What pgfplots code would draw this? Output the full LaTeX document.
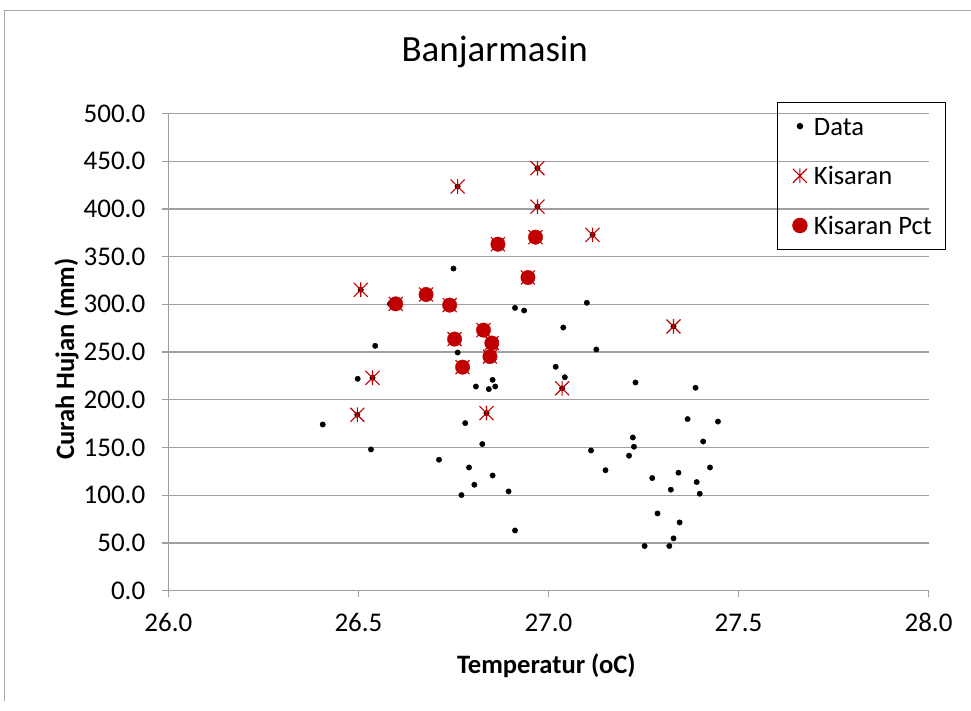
\documentclass[border=0pt]{standalone}
\usepackage{fontspec}
\setmainfont{Carlito}
\usepackage{pgfplots}
\usepackage{pgfplotstable}
\pgfplotsset{compat=1.18}
\definecolor{kred}{HTML}{C00000}
\definecolor{gridgray}{HTML}{A0A0A0}
\pgfdeclareplotmark{xstar}{%
  \pgfpathmoveto{\pgfqpoint{-\pgfplotmarksize}{-\pgfplotmarksize}}%
  \pgfpathlineto{\pgfqpoint{\pgfplotmarksize}{\pgfplotmarksize}}%
  \pgfpathmoveto{\pgfqpoint{-\pgfplotmarksize}{\pgfplotmarksize}}%
  \pgfpathlineto{\pgfqpoint{\pgfplotmarksize}{-\pgfplotmarksize}}%
  \pgfpathmoveto{\pgfqpoint{0pt}{-1.05\pgfplotmarksize}}%
  \pgfpathlineto{\pgfqpoint{0pt}{1.05\pgfplotmarksize}}%
  \pgfusepathqstroke
}
% All observations (Data)
\pgfplotstableread{
x y
26.761 423.4
26.971 442.6
26.971 402.4
27.116 372.8
26.506 315.2
26.537 223.0
26.497 184.3
26.837 186.1
27.036 212.0
27.329 276.8
26.867 363.0
26.966 370.4
26.946 328.1
26.598 300.5
26.678 310.3
26.740 299.2
26.753 263.6
26.829 273.0
26.851 259.4
26.846 245.3
26.774 234.2
26.750 337.5
26.912 296.3
26.936 293.5
27.101 301.6
27.039 275.7
26.544 256.5
27.126 252.7
26.761 249.5
26.498 222.0
26.809 213.9
26.853 220.9
26.843 211.2
26.860 213.9
27.019 234.6
27.043 223.6
26.406 174.1
26.781 175.6
26.826 153.6
26.533 148.0
26.712 137.2
26.791 129.1
26.853 120.7
26.805 111.0
26.771 100.2
26.895 104.0
26.912 63.1
27.112 146.9
27.150 126.2
27.229 218.1
27.387 212.6
27.366 179.8
27.446 177.2
27.222 160.5
27.225 150.8
27.407 156.3
27.212 141.4
27.425 129.1
27.273 118.0
27.342 123.6
27.390 113.8
27.322 105.8
27.398 101.6
27.287 80.9
27.345 71.5
27.329 54.8
27.253 46.8
27.318 46.8
26.583 300.5
}\datatable
% Kisaran
\pgfplotstableread{
x y
26.761 423.4
26.971 442.6
26.971 402.4
27.116 372.8
26.506 315.2
26.537 223.0
26.497 184.3
26.837 186.1
27.036 212.0
27.329 276.8
26.867 363.0
26.966 370.4
26.946 328.1
26.598 300.5
26.678 310.3
26.740 299.2
26.753 263.6
26.829 273.0
26.851 259.4
26.846 245.3
26.774 234.2
}\kisarantable
% Kisaran Pct
\pgfplotstableread{
x y
26.867 363.0
26.966 370.4
26.946 328.1
26.598 300.5
26.678 310.3
26.740 299.2
26.753 263.6
26.829 273.0
26.851 259.4
26.846 245.3
26.774 234.2
}\pcttable
\begin{document}
\begin{tikzpicture}[x=1pt,y=1pt]
\path (0,0) rectangle (971,711);
\draw[gray!70, line width=1pt] (5,10) -- (5,700) -- (971,700);
\begin{axis}[
  at={(168.5pt,120pt)}, anchor=south west,
  scale only axis, width=760.5pt, height=477.5pt,
  xmin=26, xmax=28, ymin=0, ymax=500,
  xtick={26,26.5,27,27.5,28},
  ytick={0,50,100,150,200,250,300,350,400,450,500},
  axis lines=left,
  axis line style={-, draw=gridgray, line width=1.3pt},
  ymajorgrids, grid style={gridgray, line width=1.3pt},
  tick align=outside, major tick length=6pt,
  tick style={gridgray, line width=1.3pt},
  tick label style={font=\fontsize{27}{30}\selectfont, text=black},
  /pgf/number format/.cd, fixed, fixed zerofill, precision=1, assume math mode=true,
  /pgfplots/.cd,
  xticklabel style={anchor=base, inner sep=0pt, yshift=-35pt},
  yticklabel style={anchor=east, inner sep=0pt, xshift=-17pt},
  title={Banjarmasin},
  title style={at={(axis description cs:0.4293,1.0968)}, anchor=base, font=\fontsize{37}{40}\selectfont, inner sep=0pt},
  xlabel={Temperatur (oC)},
  ylabel={Curah Hujan (mm)},
  xlabel style={at={(axis description cs:0.4973,-0.1745)}, anchor=base, inner sep=0pt, font=\bfseries\fontsize{26.6}{30}\selectfont},
  ylabel style={at={(axis description cs:-0.1239,0.4854)}, anchor=base, inner sep=0pt, font=\bfseries\fontsize{26.6}{30}\selectfont},
  legend cell align=left,
  legend image code/.code={\path[draw=none,fill=none] (0pt,-8pt) (16pt,8pt); \draw[#1] plot coordinates {(8pt,0pt)};},
  legend style={at={(axis description cs:1.0233,1.0247)}, anchor=north east,
    draw=black, line width=1pt, fill=none,
    font=\fontsize{26.6}{30}\selectfont,
    inner xsep=14pt, inner ysep=12pt, row sep=25.7pt, column sep=6pt,
    nodes={inner sep=0pt, text height=21pt, text depth=3pt}},
  clip=false,
]
\addplot[only marks, mark=*, mark size=2.7pt, black] table[x=x,y=y]{\datatable};
\addlegendentry{Data}
\addplot[only marks, mark=xstar, mark size=7pt, kred, mark options={line width=1.1pt}] table[x=x,y=y]{\kisarantable};
\addlegendentry{Kisaran}
\addplot[only marks, mark=*, mark size=7.2pt, kred, mark options={fill=kred, draw=kred}] table[x=x,y=y]{\pcttable};
\addlegendentry{Kisaran Pct}
\end{axis}
\end{tikzpicture}
\end{document}
